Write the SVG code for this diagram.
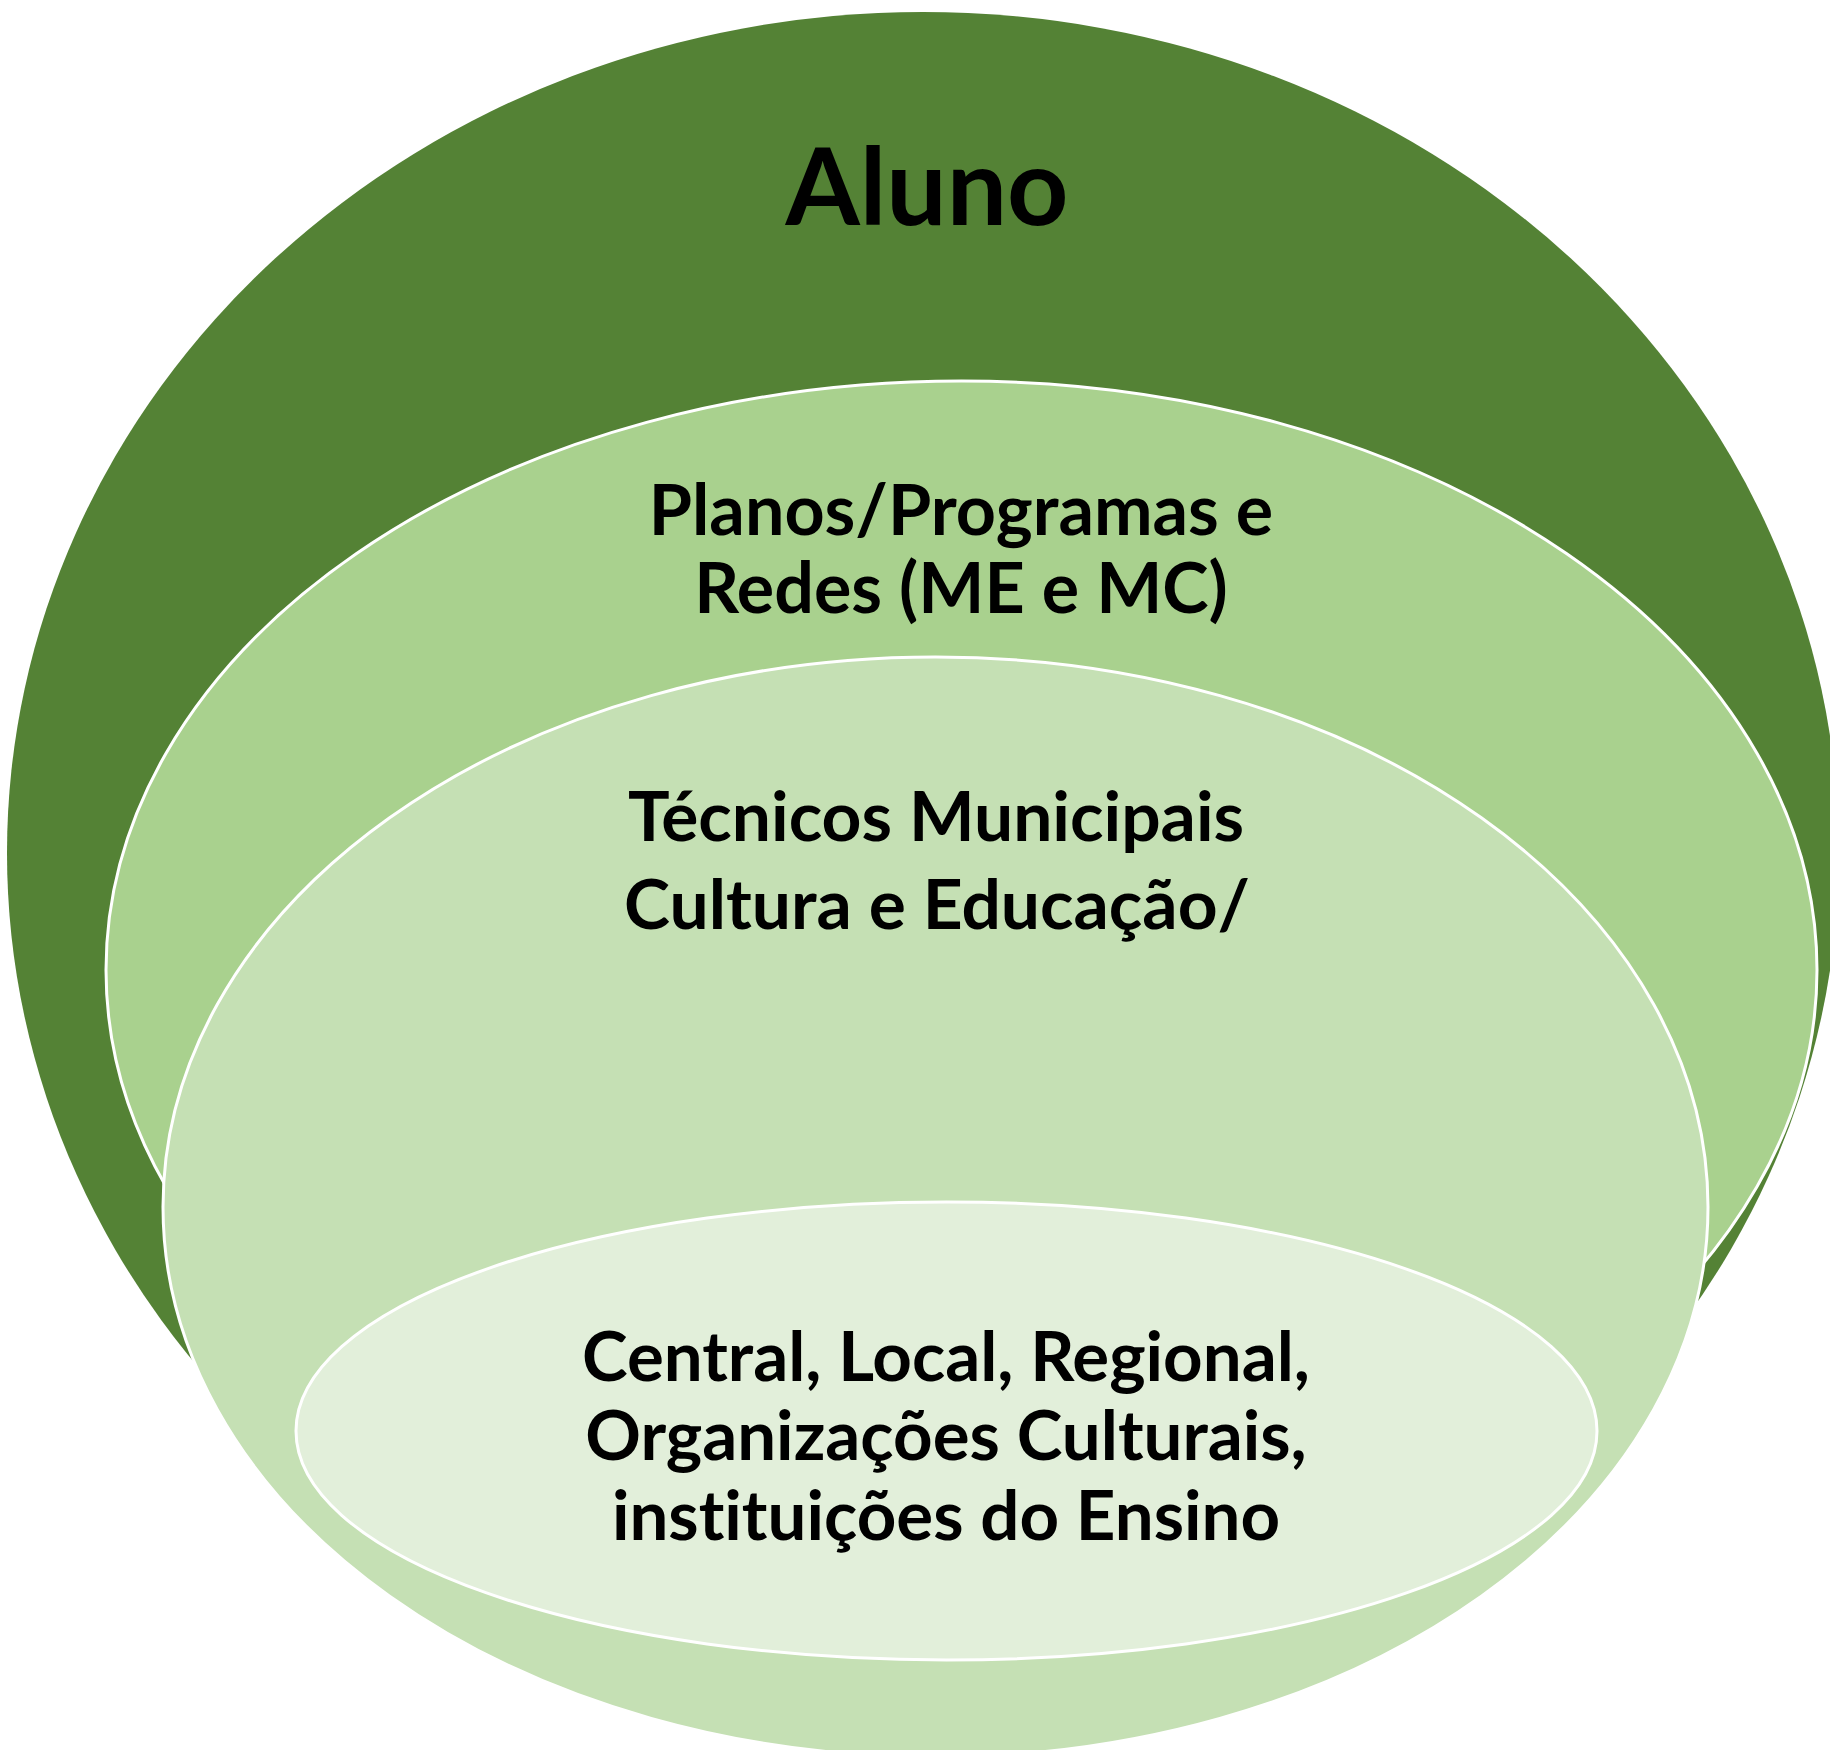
<svg xmlns="http://www.w3.org/2000/svg" width="1830" height="1750" viewBox="0 0 1830 1750">
  <style>
    .ring { stroke: #ffffff; stroke-width: 3; }
    .lbl { font-family: Lato, "Liberation Sans", sans-serif; font-weight: bold; fill: #000000; text-anchor: middle; font-variant-ligatures: none; }
  </style>
  <rect x="0" y="0" width="1830" height="1750" fill="#ffffff"/>
  <g id="node-aluno">
    <ellipse cx="923" cy="853" rx="916" ry="841" fill="#548235"/>
    <text class="lbl" x="927" y="225" font-size="107">Aluno</text>
  </g>
  <g id="node-planos">
    <ellipse class="ring" cx="961.5" cy="970" rx="855.5" ry="589" fill="#A9D18E"/>
    <text class="lbl" x="961" y="535" font-size="70">Planos/Programas e</text>
    <text class="lbl" x="961" y="613" font-size="70">Redes (ME e MC)</text>
  </g>
  <g id="node-tecnicos">
    <ellipse class="ring" cx="935.5" cy="1207" rx="772.5" ry="550" fill="#C5E0B4"/>
    <text class="lbl" x="936" y="841" font-size="69.5">Técnicos Municipais</text>
    <text class="lbl" x="937" y="929" font-size="69.5">Cultura e Educação/</text>
  </g>
  <g id="node-central">
    <ellipse class="ring" cx="946.5" cy="1431" rx="650.5" ry="229" fill="#E2EFDA"/>
    <text class="lbl" x="946" y="1381" font-size="69">Central, Local, Regional,</text>
    <text class="lbl" x="946" y="1460" font-size="69">Organizações Culturais,</text>
    <text class="lbl" x="946" y="1540" font-size="69">instituições do Ensino</text>
  </g>
  <g id="connectors"></g>
</svg>
